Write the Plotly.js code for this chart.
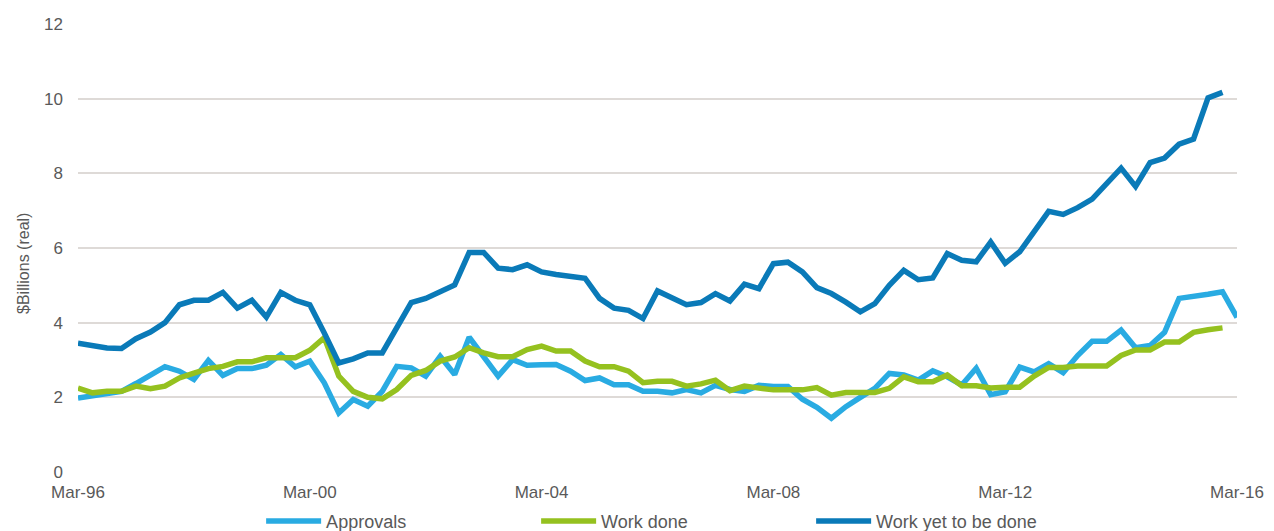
<!DOCTYPE html>
<html>
<head>
<meta charset="utf-8">
<script src="https://cdn.plot.ly/plotly-3.0.1.min.js"></script>
<style>
  html, body { margin: 0; padding: 0; background: #ffffff; }
  #chart { width: 1274px; height: 531px; }
</style>
</head>
<body>
<div id="chart"></div>
<script>
// Quarterly categories, Mar-96 to Mar-16
const quarters = [
  "Mar-96","Jun-96","Sep-96","Dec-96","Mar-97","Jun-97","Sep-97","Dec-97",
  "Mar-98","Jun-98","Sep-98","Dec-98","Mar-99","Jun-99","Sep-99","Dec-99",
  "Mar-00","Jun-00","Sep-00","Dec-00","Mar-01","Jun-01","Sep-01","Dec-01",
  "Mar-02","Jun-02","Sep-02","Dec-02","Mar-03","Jun-03","Sep-03","Dec-03",
  "Mar-04","Jun-04","Sep-04","Dec-04","Mar-05","Jun-05","Sep-05","Dec-05",
  "Mar-06","Jun-06","Sep-06","Dec-06","Mar-07","Jun-07","Sep-07","Dec-07",
  "Mar-08","Jun-08","Sep-08","Dec-08","Mar-09","Jun-09","Sep-09","Dec-09",
  "Mar-10","Jun-10","Sep-10","Dec-10","Mar-11","Jun-11","Sep-11","Dec-11",
  "Mar-12","Jun-12","Sep-12","Dec-12","Mar-13","Jun-13","Sep-13","Dec-13",
  "Mar-14","Jun-14","Sep-14","Dec-14","Mar-15","Jun-15","Sep-15","Dec-15",
  "Mar-16"
];

const tickLabels = ["Mar-96","Mar-00","Mar-04","Mar-08","Mar-12","Mar-16"];
const yTicks = [0, 2, 4, 6, 8, 10, 12];

// Approvals ($bn, real) – Mar-96 .. Mar-16
const approvals = [
  1.98, 2.03, 2.10, 2.16, 2.37, 2.59, 2.82, 2.70, 2.48, 2.99,
  2.59, 2.77, 2.77, 2.86, 3.15, 2.82, 2.97, 2.39, 1.58, 1.94,
  1.76, 2.16, 2.83, 2.79, 2.57, 3.10, 2.61, 3.61, 3.10, 2.57,
  3.01, 2.86, 2.87, 2.88, 2.70, 2.45, 2.52, 2.34, 2.34, 2.16,
  2.16, 2.12, 2.21, 2.12, 2.32, 2.21, 2.16, 2.32, 2.29, 2.29,
  1.95, 1.73, 1.44, 1.75, 2.00, 2.24, 2.64, 2.60, 2.46, 2.71,
  2.55, 2.33, 2.78, 2.07, 2.15, 2.81, 2.68, 2.90, 2.66, 3.12,
  3.50, 3.50, 3.80, 3.33, 3.39, 3.74, 4.65, 4.69, 4.76, 4.83,
  4.14
];

// Work done ($bn, real) – Mar-96 .. Dec-15
const workDone = [
  2.25, 2.12, 2.16, 2.16, 2.30, 2.23, 2.30, 2.52, 2.65, 2.77,
  2.83, 2.95, 2.95, 3.06, 3.06, 3.06, 3.26, 3.60, 2.57, 2.16,
  2.00, 1.96, 2.21, 2.59, 2.72, 2.97, 3.08, 3.33, 3.19, 3.09,
  3.09, 3.28, 3.37, 3.24, 3.24, 2.97, 2.82, 2.82, 2.70, 2.39,
  2.43, 2.43, 2.30, 2.36, 2.46, 2.18, 2.30, 2.25, 2.20, 2.20,
  2.20, 2.26, 2.06, 2.13, 2.13, 2.13, 2.24, 2.55, 2.42, 2.42,
  2.60, 2.31, 2.31, 2.25, 2.27, 2.27, 2.57, 2.80, 2.80, 2.84,
  2.84, 2.84, 3.12, 3.27, 3.27, 3.48, 3.48, 3.74, 3.81, 3.86
];

// Work yet to be done ($bn, real) – Mar-96 .. Dec-15
const workYet = [
  3.45, 3.40, 3.32, 3.31, 3.57, 3.75, 4.00, 4.48, 4.60, 4.60,
  4.81, 4.39, 4.60, 4.15, 4.81, 4.60, 4.48, 3.72, 2.92, 3.03,
  3.19, 3.19, 3.87, 4.54, 4.65, 4.85, 5.01, 5.88, 5.88, 5.46,
  5.42, 5.55, 5.36, 5.29, 5.24, 5.19, 4.65, 4.39, 4.33, 4.11,
  4.85, 4.65, 4.48, 4.54, 4.78, 4.58, 5.03, 4.91, 5.58, 5.62,
  5.36, 4.94, 4.78, 4.55, 4.29, 4.51, 5.00, 5.40, 5.15, 5.20,
  5.85, 5.67, 5.63, 6.16, 5.59, 5.90, 6.44, 6.98, 6.90, 7.08,
  7.31, 7.74, 8.14, 7.65, 8.29, 8.41, 8.78, 8.92, 10.02, 10.17
];

const seriesNames = ["Approvals", "Work done", "Work yet to be done"];
const seriesColors = ["#29abe2", "#95c11f", "#0a7ab8"];

const FONT = "Liberation Sans, Arial, sans-serif";
const TXT = "#595959";

const traces = [approvals, workDone, workYet].map((vals, k) => ({
  type: "scatter",
  mode: "lines",
  name: seriesNames[k],
  x: quarters.slice(0, vals.length),
  y: vals,
  line: { color: seriesColors[k], width: 5.5, shape: "linear" },
  hoverinfo: "x+y+name"
}));

const layout = {
  width: 1274,
  height: 531,
  paper_bgcolor: "#ffffff",
  plot_bgcolor: "#ffffff",
  margin: { l: 78, r: 37, t: 24, b: 59, autoexpand: false },
  font: { family: FONT, size: 17, color: TXT },
  showlegend: true,
  xaxis: {
    type: "category",
    categoryorder: "array",
    categoryarray: quarters,
    range: [0, quarters.length - 1],
    tickmode: "array",
    tickvals: tickLabels,
    ticktext: tickLabels,
    showgrid: false,
    zeroline: false,
    showline: false,
    ticks: "",
    ticklabelstandoff: 8,
    tickfont: { family: FONT, size: 17, color: TXT },
    fixedrange: true
  },
  yaxis: {
    range: [0, 12],
    tickmode: "array",
    tickvals: yTicks,
    showgrid: true,
    gridcolor: "#dedad7",
    gridwidth: 2,
    zeroline: false,
    showline: false,
    ticks: "",
    ticklabelstandoff: 14,
    tickfont: { family: FONT, size: 17, color: TXT },
    fixedrange: true
  },
  annotations: [{
    text: "$Billions (real)",
    xref: "paper", yref: "paper",
    x: -0.0475, y: 0.4665,
    xanchor: "center", yanchor: "middle",
    textangle: -90,
    showarrow: false,
    font: { family: FONT, size: 16, color: TXT }
  }],
  legend: {
    orientation: "h",
    x: 0.158, xanchor: "left",
    y: -0.11, yanchor: "middle",
    itemwidth: 55,
    entrywidth: 205,
    entrywidthmode: "pixels",
    font: { family: FONT, size: 18, color: TXT },
    bgcolor: "rgba(0,0,0,0)",
    traceorder: "normal"
  }
};

Plotly.newPlot("chart", traces, layout, { displayModeBar: false, staticPlot: true });
</script>
</body>
</html>
